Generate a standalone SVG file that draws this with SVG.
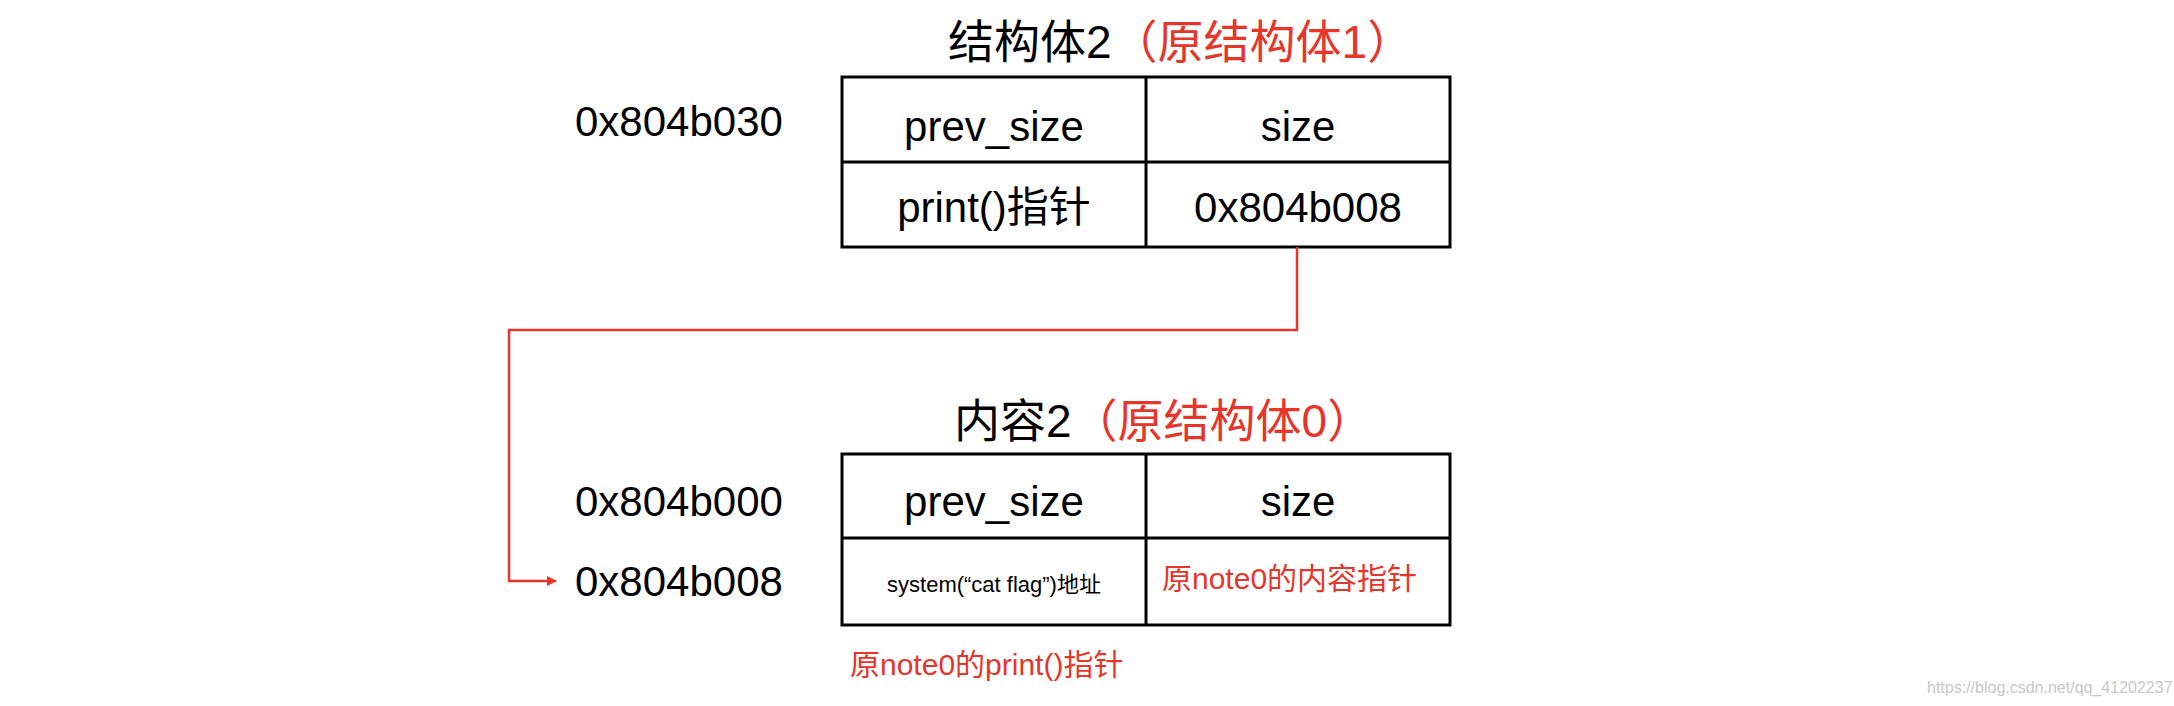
<svg xmlns="http://www.w3.org/2000/svg" width="2174" height="706" viewBox="0 0 2174 706">
<style>
text{font-family:"Liberation Sans","Noto Sans CJK SC",sans-serif;fill:#000}
.big{font-size:42px}
.t{font-size:46px}
.r{fill:#e8352a}
.c{text-anchor:middle}
rect,line.g{fill:none;stroke:#000;stroke-width:3}
</style>
<defs><marker id="ah" markerWidth="10" markerHeight="10" refX="9" refY="5" orient="auto" markerUnits="userSpaceOnUse"><path d="M0,0 L10,5 L0,10 z" fill="#e8352a"/></marker></defs>
<rect width="2174" height="706" fill="#fff" style="stroke:none"/>
<g id="struct2">
<text class="t" x="948" y="58">结构体2<tspan class="r">（原结构体1）</tspan></text>
<text class="big" x="575" y="136">0x804b030</text>
<rect x="842" y="77" width="608" height="170"/>
<line class="g" x1="842" y1="162" x2="1450" y2="162"/>
<line class="g" x1="1146" y1="77" x2="1146" y2="247"/>
<text class="big c" x="994" y="141">prev_size</text>
<text class="big c" x="1298" y="141">size</text>
<text class="big c" x="994" y="222">print()指针</text>
<text class="big c" x="1298" y="222">0x804b008</text>
</g>
<g id="content2">
<text class="t" x="954" y="437">内容2<tspan class="r">（原结构体0）</tspan></text>
<text class="big" x="575" y="516">0x804b000</text>
<text class="big" x="575" y="596">0x804b008</text>
<rect x="842" y="454" width="608" height="171"/>
<line class="g" x1="842" y1="538" x2="1450" y2="538"/>
<line class="g" x1="1146" y1="454" x2="1146" y2="625"/>
<text class="big c" x="994" y="516">prev_size</text>
<text class="big c" x="1298" y="516">size</text>
<text class="c" x="994" y="592" style="font-size:22px">system(“cat flag”)地址</text>
<text class="r" x="1162" y="589" style="font-size:30px">原note0的内容指针</text>
<text class="r" x="850" y="675" style="font-size:30px">原note0的print()指针</text>
</g>
<g id="connectors">
<polyline points="1297,247 1297,330 509,330 509,581 556,581" fill="none" stroke="#e8352a" stroke-width="2.5" marker-end="url(#ah)"/>
</g>
<text x="1927" y="693" style="font-size:16px;fill:#c8c8c8">https://blog.csdn.net/qq_41202237</text>
</svg>
